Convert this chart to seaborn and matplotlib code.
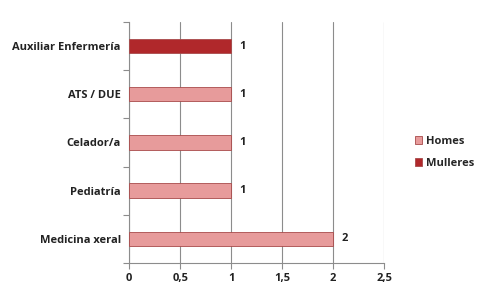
import matplotlib.pyplot as plt
import seaborn as sns
import pandas as pd

categorias = ["Auxiliar Enfermería", "ATS / DUE", "Celador/a", "Pediatría", "Medicina xeral"]
valores = [1, 1, 1, 1, 2]
serie = ["Mulleres", "Homes", "Homes", "Homes", "Homes"]
xticks = [0, 0.5, 1, 1.5, 2, 2.5]
xtick_labels = ["0", "0,5", "1", "1,5", "2", "2,5"]

df = pd.DataFrame({"categoria": categorias, "valor": valores, "serie": serie})

sns.set_style("white")
plt.rcParams['font.family'] = ['Open Sans', 'DejaVu Sans']

fig = plt.figure(figsize=(4.82, 2.92), dpi=100)
ax = fig.add_axes([0.268, 0.099, 0.529, 0.826])

cores = {"Homes": "#e79b9b", "Mulleres": "#b0282b"}
sns.barplot(data=df, y="categoria", x="valor", hue="serie", hue_order=["Homes", "Mulleres"],
            palette=cores, saturation=1, dodge=False, width=0.3, orient="h", ax=ax, zorder=3,
            edgecolor="#a84a4a", linewidth=0.6)

# etiquetas de valores
for y, v in enumerate(valores):
    ax.text(v + 0.08, y, str(v), va="center", ha="left", fontsize=8, fontweight="bold", color="#222222")

ax.set_xlim(0, 2.5)
ax.set_ylim(4.5, -0.5)
ax.set_xticks(xticks)
ax.set_xticklabels(xtick_labels, fontsize=8, fontweight="bold", color="#222222")
ax.set_yticks(range(len(categorias)))
ax.set_yticklabels(categorias, fontsize=8, fontweight="bold", color="#222222")
ax.set_xlabel("")
ax.set_ylabel("")
ax.grid(axis="x", color="#8c8c8c", linewidth=0.8, zorder=0)
for s in ["top", "right"]:
    ax.spines[s].set_visible(False)
for s in ["left", "bottom"]:
    ax.spines[s].set_color("#8c8c8c")
    ax.spines[s].set_linewidth(0.8)

# marcas nos limites das categorias
ax.set_yticks([i - 0.5 for i in range(len(categorias) + 1)], minor=True)
ax.tick_params(axis="y", which="major", length=0, pad=6)
ax.tick_params(axis="y", which="minor", length=4, color="#8c8c8c", width=0.8, direction="out", left=True)
ax.tick_params(axis="x", length=4, color="#8c8c8c", width=0.8, direction="out", bottom=True, pad=3)

ax.legend(loc="center left", bbox_to_anchor=(1.08, 0.46), frameon=False,
          prop={"size": 8, "weight": "bold"}, handlelength=0.7, handleheight=0.7,
          handletextpad=0.3, labelspacing=1.0)

fig.savefig("out.png", dpi=100)
